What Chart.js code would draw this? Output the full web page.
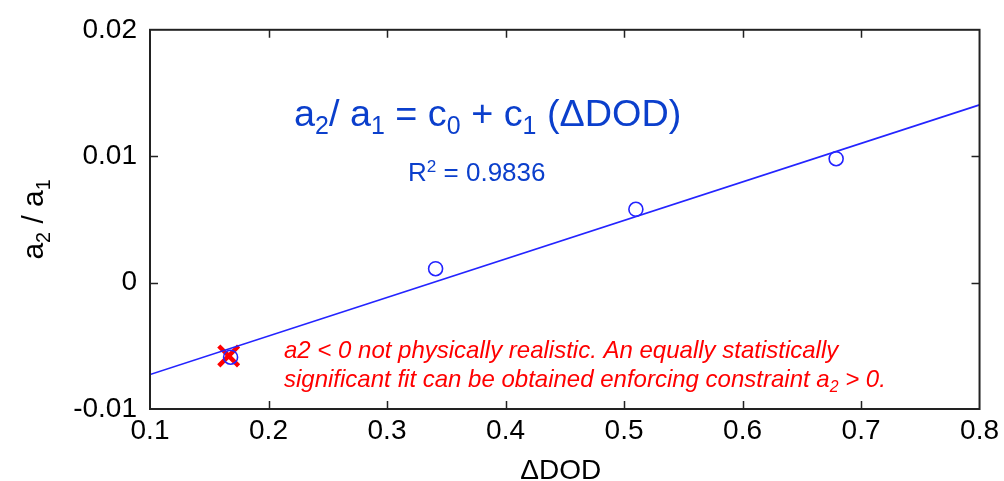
<!DOCTYPE html>
<html>
<head>
<meta charset="utf-8">
<script src="https://cdn.jsdelivr.net/npm/chart.js@4"></script>
<style>
  html, body { margin: 0; padding: 0; background: #fff; }
  #wrap { width: 1004px; height: 481px; }
</style>
</head>
<body>
<div id="wrap"><canvas id="fitChart" width="1004" height="481"></canvas></div>
<script>
// axis ticks
const xTicks = [0.1, 0.2, 0.3, 0.4, 0.5, 0.6, 0.7, 0.8];
const xTickLabels = ['0.1', '0.2', '0.3', '0.4', '0.5', '0.6', '0.7', '0.8'];
const yTicks = [-0.01, 0, 0.01, 0.02];
const yTickLabels = ['-0.01', '0', '0.01', '0.02'];

// measured points (a2/a1 vs delta DOD)
const ddod = [0.168, 0.341, 0.510, 0.679];
const ratio = [-0.0059, 0.0011, 0.0058, 0.0098];

// linear fit ends
const fitX = [0.1, 0.8];
const fitY = [-0.00727, 0.01406];

// rejected point marker
const flagX = [0.1664];
const flagY = [-0.0058];

const FONT = "'Liberation Sans', Arial, Helvetica, sans-serif";
const BLUE = '#2424ff';
const TXT_BLUE = '#0b3fcc';

function toPts(xs, ys) {
    return xs.map((x, i) => ({x: x, y: ys[i]}));
}

// draws text with sub/superscripts, returns width
function richText(ctx, x, y, parts, size, style, measureOnly) {
    let cx = x;
    parts.forEach(p => {
        let s = size, dy = 0;
        if (p[1] === 'sub') { s = size * 0.66; dy = size * 0.22; }
        if (p[1] === 'sup') { s = size * 0.66; dy = -size * 0.36; }
        ctx.font = `${style} ${s}px ${FONT}`;
        if (!measureOnly) ctx.fillText(p[0], cx, y + dy);
        cx += ctx.measureText(p[0]).width;
    });
    return cx - x;
}

const extras = {
    id: 'extras',
    afterDraw(chart) {
        const ctx = chart.ctx;
        const a = chart.chartArea;
        const xs = chart.scales.x, ys = chart.scales.y;
        ctx.save();
        // frame
        ctx.strokeStyle = '#222';
        ctx.lineWidth = 2;
        ctx.strokeRect(a.left, a.top, a.right - a.left, a.bottom - a.top);
        // inward ticks on all sides
        const tl = 8;
        ctx.beginPath();
        xTicks.slice(1, -1).forEach(v => {
            const px = Math.round(xs.getPixelForValue(v)) + 0.5;
            ctx.moveTo(px, a.bottom); ctx.lineTo(px, a.bottom - tl);
            ctx.moveTo(px, a.top); ctx.lineTo(px, a.top + tl);
        });
        yTicks.slice(1, -1).forEach(v => {
            const py = Math.round(ys.getPixelForValue(v)) + 0.5;
            ctx.moveTo(a.left, py); ctx.lineTo(a.left + tl, py);
            ctx.moveTo(a.right, py); ctx.lineTo(a.right - tl, py);
        });
        ctx.lineWidth = 1.5;
        ctx.stroke();

        ctx.textBaseline = 'alphabetic';
        // x axis title
        ctx.fillStyle = '#000';
        ctx.textAlign = 'center';
        ctx.font = `28px ${FONT}`;
        ctx.fillText('\u0394DOD', (a.left + a.right) / 2 - 4, 479);

        // y axis title (rotated, with subscripts)
        ctx.textAlign = 'left';
        const yParts = [['a', 'n'], ['2', 'sub'], [' / ', 'n'], ['a', 'n'], ['1', 'sub']];
        const yw = richText(ctx, 0, 0, yParts, 30, 'normal', true);
        ctx.save();
        ctx.translate(43, (a.top + a.bottom) / 2);
        ctx.rotate(-Math.PI / 2);
        richText(ctx, -yw / 2, 0, yParts, 30, 'normal', false);
        ctx.restore();

        // fit equation
        ctx.fillStyle = TXT_BLUE;
        richText(ctx, 294, 126, [['a', 'n'], ['2', 'sub'], ['/ a', 'n'], ['1', 'sub'], [' = c', 'n'], ['0', 'sub'],
            [' + c', 'n'], ['1', 'sub'], [' (\u0394DOD)', 'n']], 37.8, 'normal', false);
        richText(ctx, 408, 181, [['R', 'n'], ['2', 'sup'], [' = 0.9836', 'n']], 26, 'normal', false);

        // red note
        ctx.fillStyle = '#ff0000';
        richText(ctx, 284, 358, [['a2 < 0 not physically realistic. An equally statistically', 'n']], 24, 'italic', false);
        richText(ctx, 284, 387, [['significant fit can be obtained enforcing constraint a', 'n'], ['2', 'sub'], [' > 0.', 'n']], 24, 'italic', false);
        ctx.restore();
    }
};

new Chart(document.getElementById('fitChart'), {
    type: 'scatter',
    data: {
        datasets: [{
            label: 'fit',
            data: toPts(fitX, fitY),
            showLine: true,
            borderColor: BLUE,
            borderWidth: 1.6,
            pointRadius: 0,
            fill: false
        }, {
            label: 'data',
            data: toPts(ddod, ratio),
            pointStyle: 'circle',
            pointRadius: 7,
            borderColor: BLUE,
            borderWidth: 1.6,
            backgroundColor: 'rgba(0,0,0,0)'
        }, {
            label: 'rejected',
            data: toPts(flagX, flagY),
            pointStyle: 'crossRot',
            pointRadius: 14,
            borderColor: '#ff0000',
            borderWidth: 4.5
        }]
    },
    options: {
        responsive: false,
        animation: false,
        layout: {padding: {left: 0, top: 25, right: 21, bottom: 0}},
        plugins: {
            legend: {display: false},
            tooltip: {enabled: false}
        },
        scales: {
            x: {
                type: 'linear',
                min: 0.1,
                max: 0.8,
                afterFit(scale) { scale.height = 72; },
                afterBuildTicks(scale) { scale.ticks = xTicks.map(v => ({value: v})); },
                grid: {display: false, drawTicks: false},
                border: {display: false},
                ticks: {
                    padding: 5,
                    color: '#000',
                    font: {family: FONT, size: 28},
                    maxRotation: 0,
                    autoSkip: false,
                    callback: (v) => xTickLabels[xTicks.findIndex(t => Math.abs(t - v) < 1e-9)]
                }
            },
            y: {
                type: 'linear',
                min: -0.01,
                max: 0.02,
                afterFit(scale) { scale.width = 150; },
                afterBuildTicks(scale) { scale.ticks = yTicks.map(v => ({value: v})); },
                grid: {display: false, drawTicks: false},
                border: {display: false},
                ticks: {
                    padding: 13,
                    color: '#000',
                    font: {family: FONT, size: 28},
                    autoSkip: false,
                    callback: (v) => yTickLabels[yTicks.findIndex(t => Math.abs(t - v) < 1e-9)]
                }
            }
        }
    },
    plugins: [extras]
});
</script>
</body>
</html>
